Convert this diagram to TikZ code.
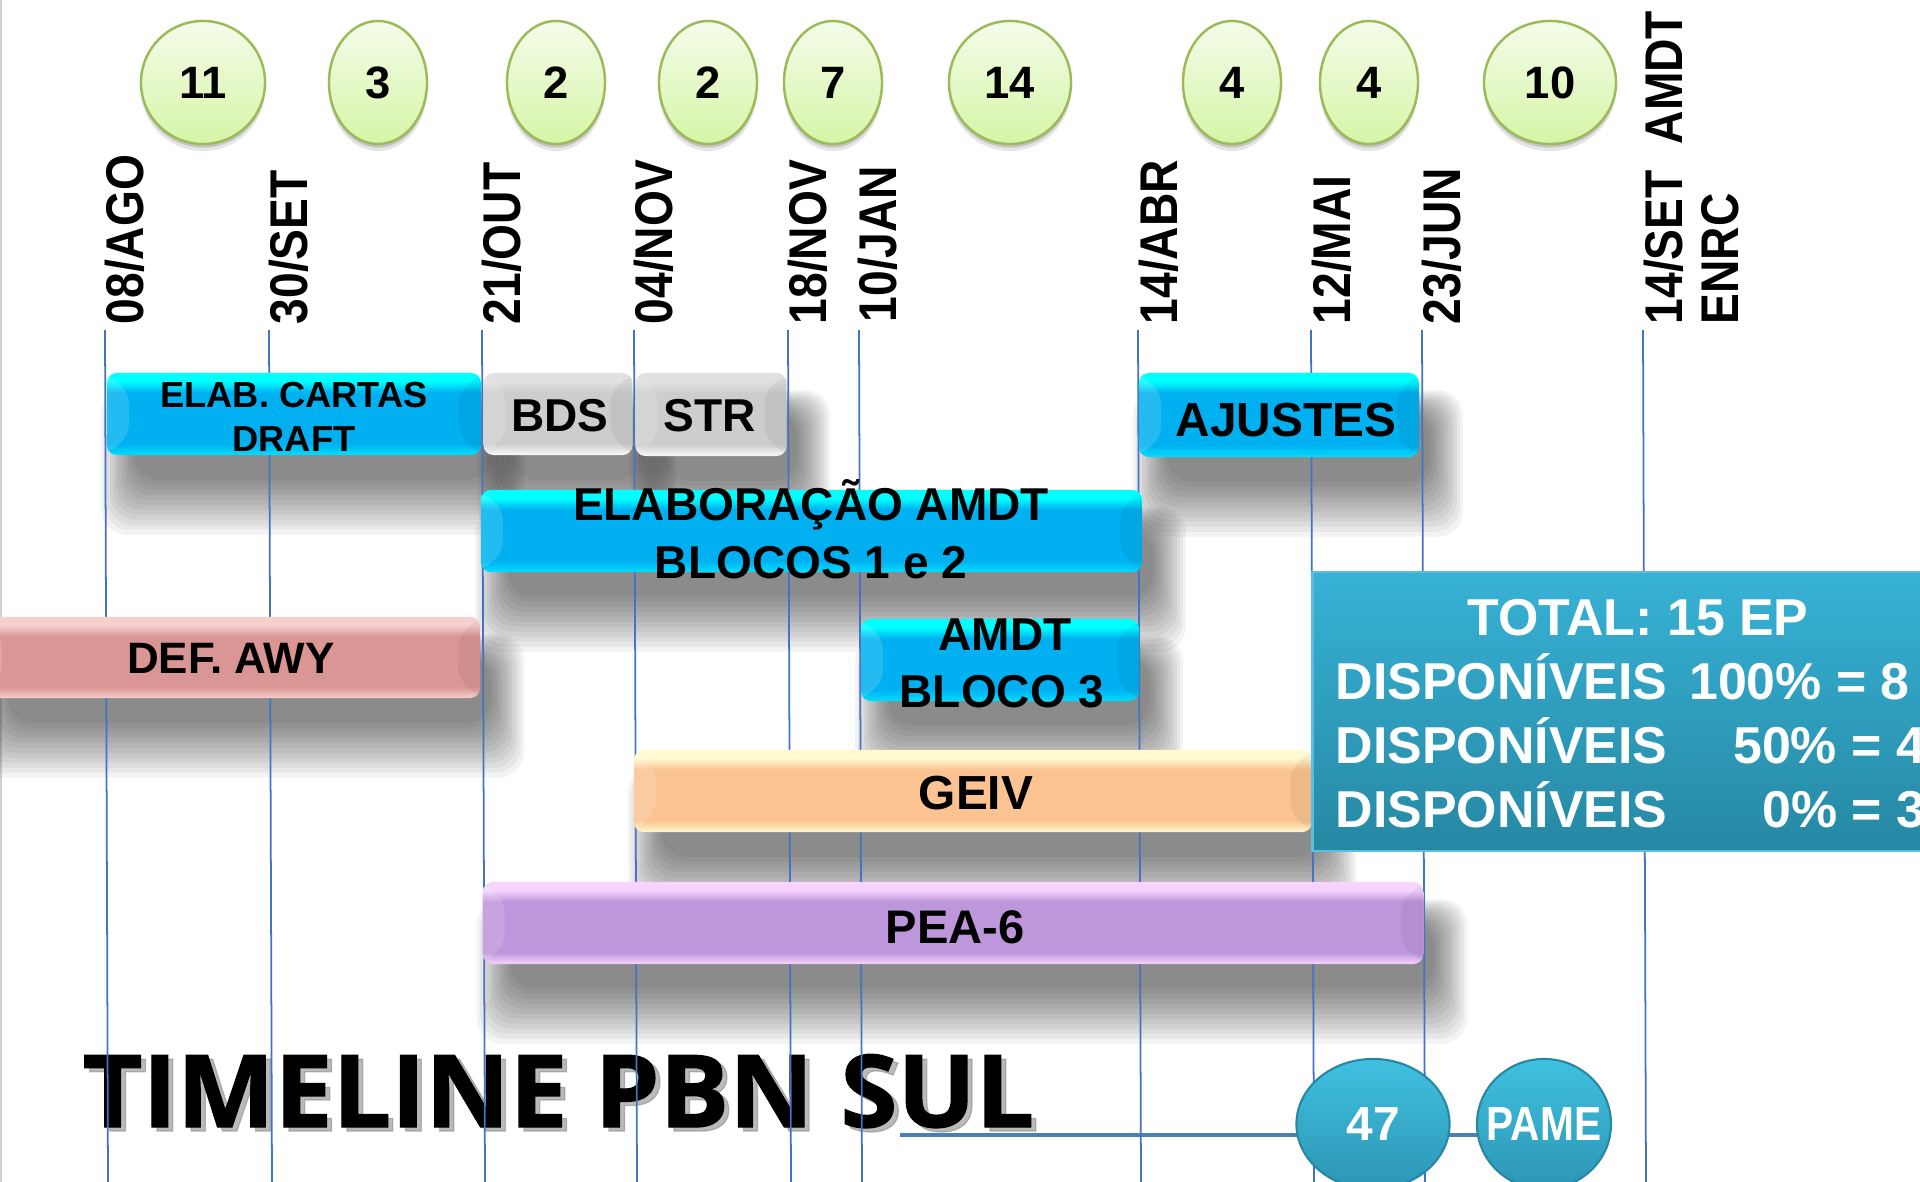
\documentclass[tikz,border=0pt]{standalone}
\usepackage{fontspec}
\usetikzlibrary{shapes.geometric}
\newfontfamily\arb{Liberation Sans}
\newfontfamily\arbc[FakeStretch=0.87]{Liberation Sans}
\newfontfamily\arbn[FakeStretch=0.85]{Liberation Sans}
\newfontfamily\osb[FakeStretch=1.03,FakeBold=1.2]{Open Sans}
\newcommand\fsz[1]{\fontsize{#1pt}{#1pt}\selectfont}

\definecolor{lineblue}{RGB}{68,114,196}
\definecolor{hlblue}{RGB}{74,126,187}
\definecolor{cyB}{RGB}{0,222,255}
\definecolor{cyM}{RGB}{0,176,240}
\definecolor{cyT}{RGB}{0,255,255}
\definecolor{grB}{RGB}{250,250,250}
\definecolor{grM}{RGB}{205,205,205}
\definecolor{grT}{RGB}{225,225,225}
\definecolor{pkB}{RGB}{246,205,204}
\definecolor{pkM}{RGB}{218,150,148}
\definecolor{pkT}{RGB}{246,208,207}
\definecolor{orB}{RGB}{255,250,205}
\definecolor{orM}{RGB}{250,195,145}
\definecolor{orT}{RGB}{255,250,208}
\definecolor{puB}{RGB}{246,212,255}
\definecolor{puM}{RGB}{190,150,220}
\definecolor{puT}{RGB}{246,212,255}
\definecolor{boxT}{RGB}{55,178,214}
\definecolor{boxB}{RGB}{38,136,163}
\definecolor{boxedge}{RGB}{90,190,225}
\definecolor{ellT}{RGB}{244,252,234}
\definecolor{ellB}{RGB}{214,245,166}
\definecolor{ellborder}{RGB}{155,187,89}
\definecolor{tealT}{RGB}{64,192,224}
\definecolor{tealB}{RGB}{44,150,180}
\definecolor{tealedge}{RGB}{40,135,165}

\pgfdeclareverticalshading{shcyan}{100bp}{color(0bp)=(cyB); color(25bp)=(cyB); color(32bp)=(cyM); color(63bp)=(cyM); color(70bp)=(cyT); color(100bp)=(cyT)}
\pgfdeclareverticalshading{shgray}{100bp}{color(0bp)=(grB); color(25bp)=(grB); color(32bp)=(grM); color(63bp)=(grM); color(70bp)=(grT); color(100bp)=(grT)}
\pgfdeclareverticalshading{shpink}{100bp}{color(0bp)=(pkB); color(25bp)=(pkB); color(32bp)=(pkM); color(63bp)=(pkM); color(70bp)=(pkT); color(100bp)=(pkT)}
\pgfdeclareverticalshading{shorange}{100bp}{color(0bp)=(orB); color(25bp)=(orB); color(32bp)=(orM); color(63bp)=(orM); color(70bp)=(orT); color(100bp)=(orT)}
\pgfdeclareverticalshading{shpurple}{100bp}{color(0bp)=(puB); color(25bp)=(puB); color(32bp)=(puM); color(63bp)=(puM); color(70bp)=(puT); color(100bp)=(puT)}

\pgfdeclarelayer{bgl}
\pgfdeclarelayer{shl}
\pgfsetlayers{bgl,shl,main}

\newcommand\bshadow[1]{%
  \begin{pgfonlayer}{shl}
  \foreach \k in {0,...,11}{
    \fill[black,fill opacity=0.047,rounded corners=0.25cm]
      ([shift={(28-3*\k,40-2*\k)}]#1.north west) rectangle ([shift={(10+3*\k,24+5*\k)}]#1.south east);
  }
  \end{pgfonlayer}}

\begin{document}
\begin{tikzpicture}[x=0.01cm,y=-0.01cm,
  vline/.style={draw=lineblue,line width=0.5pt},
  hline/.style={draw=hlblue,line width=1.1pt},
  barbox/.style={rectangle,rounded corners=0.1cm,inner sep=0,draw=none,shade,
    path picture={
      \fill[white,fill opacity=0.14] (path picture bounding box.north west) -- ++(22,20)
        -- ([shift={(22,-20)}]path picture bounding box.south west) -- (path picture bounding box.south west) -- cycle;
      \fill[black,fill opacity=0.05] (path picture bounding box.north east) -- ++(-22,20)
        -- ([shift={(-22,-20)}]path picture bounding box.south east) -- (path picture bounding box.south east) -- cycle;
    }},
  lbl/.style={anchor=base,inner sep=0,text=black},
  datelbl/.style={rotate=90,anchor=north west,inner sep=0,font=\arbc\bfseries\fsz{15.1}},
  topell/.style={ellipse,inner sep=0,draw=ellborder,line width=0.7pt,top color=ellT,bottom color=ellB,
    minimum height=1.23cm,
    preaction={fill=black,fill opacity=0.10,transform canvas={yshift=-0.07cm}},
    preaction={fill=black,fill opacity=0.14,transform canvas={yshift=-0.035cm}},
    font=\arb\bfseries\fsz{12.9}},
  tealell/.style={ellipse,inner sep=0,draw=tealedge,line width=0.6pt,top color=tealT,bottom color=tealB,
    minimum height=1.30cm},
  tealtxt/.style={inner sep=0,text=white},
  totbox/.style={rectangle,inner sep=0,top color=boxT,bottom color=boxB,draw=boxedge,line width=0.8pt},
  boxtxt/.style={inner sep=0,text=white,font=\arb\bfseries\fsz{14.75}},
  ttl/.style={anchor=base west,inner sep=0,font=\osb\bfseries\fsz{28.6}}
]
\useasboundingbox (0,0) rectangle (1920,1182);
\clip (0,0) rectangle (1920,1182);
\begin{pgfonlayer}{bgl}
  \fill[white] (0,0) rectangle (1920,1182);
  \fill[black!18] (0,0) rectangle (2.5,1182);
\end{pgfonlayer}

% title
\node[ttl,text=black!45,opacity=0.6] (ttlsh) at (87,1131) {TIMELINE PBN SUL};
\node[ttl] (ttl) at (82,1127) {TIMELINE PBN SUL};

% vertical date lines
\foreach \i/\x in {1/105,2/269,3/482,4/634,5/788,6/859,7/1138,8/1311,9/1422,10/1643}{
  \coordinate (vt\i) at (\x,330);
  \coordinate (vb\i) at (\x+3,1182);
  \draw[vline] (vt\i) -- (vb\i);
}

% bars
\node[barbox,shading=shcyan,minimum width=3.74cm,minimum height=0.82cm] (elab) at (294,414) {};
\bshadow{elab}
\node[lbl,font=\arb\bfseries\fsz{10.3}] (telab1) at (294,407) {ELAB. CARTAS};
\node[lbl,font=\arb\bfseries\fsz{10.3}] (telab2) at (294,452) {DRAFT};

\node[barbox,shading=shgray,minimum width=1.49cm,minimum height=0.82cm] (bds) at (558,414) {};
\bshadow{bds}
\node[lbl,font=\arb\bfseries\fsz{13.1}] (tbds) at (560,432) {BDS};
\node[barbox,shading=shgray,minimum width=1.51cm,minimum height=0.83cm] (str) at (711,414.5) {};
\bshadow{str}
\node[lbl,font=\arb\bfseries\fsz{13.1}] (tstr) at (710,432) {STR};

\node[barbox,shading=shcyan,minimum width=2.80cm,minimum height=0.84cm] (ajust) at (1279,415) {};
\bshadow{ajust}
\node[lbl,font=\arb\bfseries\fsz{13.6}] (tajust) at (1286,437) {AJUSTES};

\node[barbox,shading=shcyan,minimum width=6.61cm,minimum height=0.82cm] (elamdt) at (811.5,531) {};
\bshadow{elamdt}
\node[lbl,font=\arb\bfseries\fsz{13.1}] (telamdt1) at (811,521) {ELABORAÇÃO AMDT};
\node[lbl,font=\arb\bfseries\fsz{13.1}] (telamdt2) at (811,578) {BLOCOS 1 e 2};

\node[barbox,shading=shpink,minimum width=5.00cm,minimum height=0.81cm] (defawy) at (230,657.5) {};
\bshadow{defawy}
\node[lbl,font=\arb\bfseries\fsz{12.5}] (tdefawy) at (231,673) {DEF. AWY};

\node[barbox,shading=shcyan,minimum width=2.78cm,minimum height=0.82cm] (amdt3) at (1000,660) {};
\bshadow{amdt3}
\node[lbl,font=\arb\bfseries\fsz{13.1}] (tamdt3a) at (1005,650) {AMDT};
\node[lbl,font=\arb\bfseries\fsz{13.1}] (tamdt3b) at (1002,707) {BLOCO 3};

\node[barbox,shading=shorange,minimum width=6.78cm,minimum height=0.82cm] (geiv) at (973,791) {};
\bshadow{geiv}
\node[lbl,font=\arb\bfseries\fsz{13.6}] (tgeiv) at (976,809) {GEIV};

\node[barbox,shading=shpurple,minimum width=9.40cm,minimum height=0.82cm] (pea) at (953,923) {};
\bshadow{pea}
\node[lbl,font=\arb\bfseries\fsz{13.4}] (tpea) at (955,943) {PEA-6};

% total box
\node[totbox,minimum width=6.22cm,minimum height=2.79cm] (tot) at (1624,711.5) {};
\node[boxtxt,anchor=base] (tot1) at (1638,635) {TOTAL: 15 EP};
\node[boxtxt,anchor=base west] (tot2) at (1335,699) {DISPONÍVEIS\hspace{0.22cm}100\% = 8};
\node[boxtxt,anchor=base west] (tot3) at (1335,763) {DISPONÍVEIS\hspace{0.66cm}50\% = 4};
\node[boxtxt,anchor=base west] (tot4) at (1335,827) {DISPONÍVEIS\hspace{0.95cm}0\% = 3};

% top ellipses
\node[topell,minimum width=1.24cm] (n1) at (203,82.5) {11};
\node[topell,minimum width=0.98cm] (n2) at (378,82.5) {3};
\node[topell,minimum width=0.98cm] (n3) at (556,82.5) {2};
\node[topell,minimum width=0.98cm] (n4) at (708,82.5) {2};
\node[topell,minimum width=0.98cm] (n5) at (833,82.5) {7};
\node[topell,minimum width=1.22cm] (n6) at (1010,82.5) {14};
\node[topell,minimum width=0.98cm] (n7) at (1232,82.5) {4};
\node[topell,minimum width=0.98cm] (n8) at (1369,82.5) {4};
\node[topell,minimum width=1.32cm] (n9) at (1550,82.5) {10};

% date labels
\node[datelbl] (d1) at (104,325) {08/AGO};
\node[datelbl] (d2) at (268,325) {30/SET};
\node[datelbl] (d3) at (481,325) {21/OUT};
\node[datelbl] (d4) at (633,325) {04/NOV};
\node[datelbl] (d5) at (787,325) {18/NOV};
\node[datelbl] (d6) at (857,323) {10/JAN};
\node[datelbl] (d7) at (1138,325) {14/ABR};
\node[datelbl] (d8) at (1311,325) {12/MAI};
\node[datelbl] (d9) at (1421,325) {23/JUN};
\node[datelbl] (d10) at (1643,325) {14/SET\hspace{0.26cm}AMDT};
\node[datelbl] (d11) at (1701,325) {ENRC};

% bottom ellipses and line
\node[tealell,minimum width=1.53cm] (e47) at (1373,1124) {};
\node[tealtxt,font=\arb\bfseries\fsz{13.6}] (t47) at (e47.center) {47};
\node[tealell,minimum width=1.34cm] (pame) at (1544,1124) {};
\node[tealtxt,font=\arbn\bfseries\fsz{13.6}] (tpame) at (pame.center) {PAME};
\coordinate (tlstart) at (900,1135);
\begin{pgfonlayer}{bgl}
  \draw[hline] (tlstart) -- (tlstart -| pame.center);
\end{pgfonlayer}
\end{tikzpicture}
\end{document}
